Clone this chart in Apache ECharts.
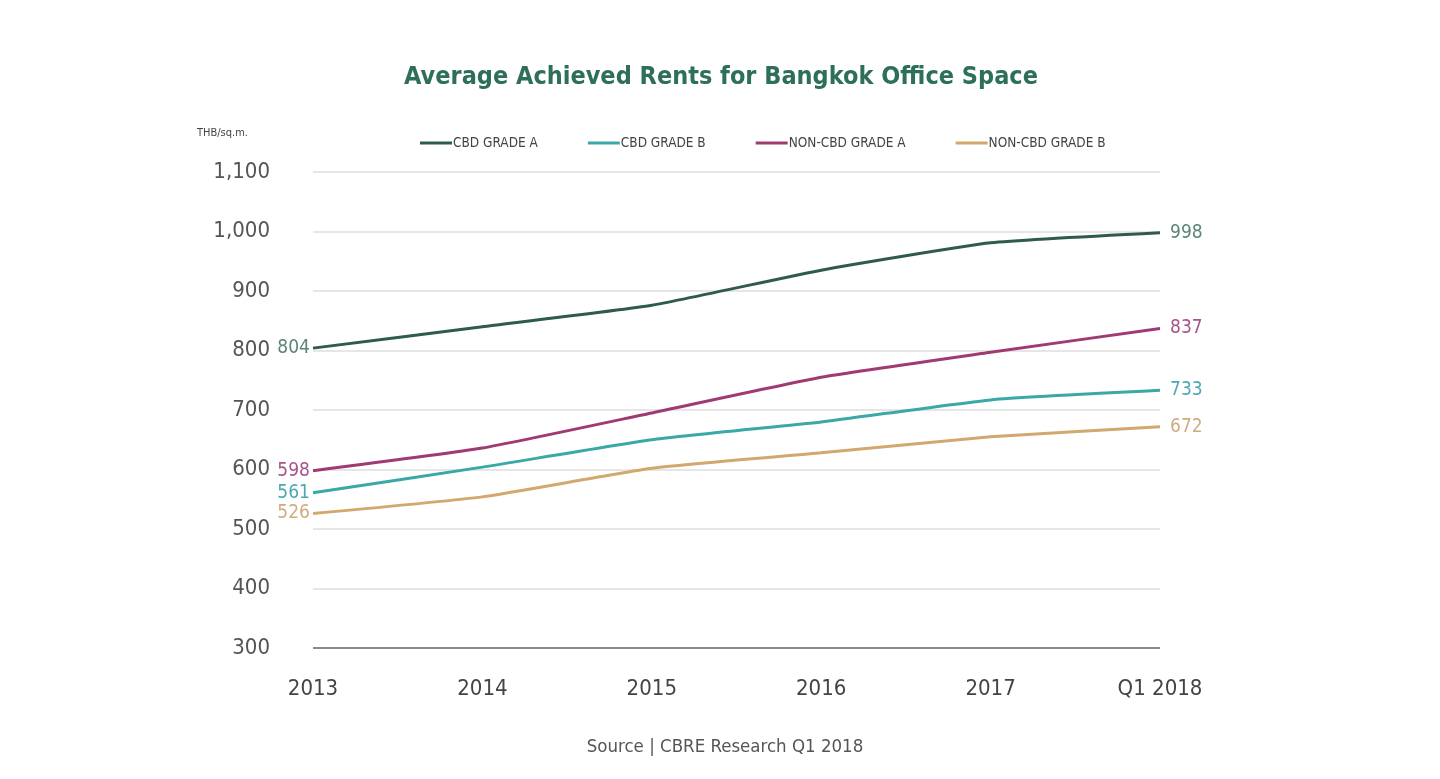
<!DOCTYPE html>
<html>
<head>
<meta charset="utf-8">
<script src="https://cdn.jsdelivr.net/npm/echarts@6/dist/echarts.min.js"></script>
<style>
html,body{margin:0;padding:0;background:#fff;}
#chart{width:1440px;height:779px;}
</style>
</head>
<body>
<div id="chart"></div>
<script>
const categories = ['2013', '2014', '2015', '2016', '2017', 'Q1 2018'];
const seriesNames = ['CBD GRADE A', 'CBD GRADE B', 'NON-CBD GRADE A', 'NON-CBD GRADE B'];
const cbdGradeA = [804, 840, 876, 935, 981, 998];
const cbdGradeB = [561, 604, 650, 680, 717, 733];
const nonCbdGradeA = [598, 636, 695, 755, 797, 837];
const nonCbdGradeB = [526, 554, 602, 628, 655, 672];
const yTicks = [300, 400, 500, 600, 700, 800, 900, 1000, 1100];

const FONT = "'DejaVu Sans Condensed', 'Liberation Sans Narrow', sans-serif";
const lineColors = ['#2f5b4c', '#3aa9a6', '#a03a72', '#d2a86f'];
const labelColors = ['#5b8577', '#4aa8b2', '#a8538a', '#cfac7f'];
const allData = [cbdGradeA, cbdGradeB, nonCbdGradeA, nonCbdGradeB];

function buildData(values, idx) {
  return values.map(function (v, i) {
    const item = { value: v };
    if (i === 0 || i === values.length - 1) {
      item.label = {
        show: true,
        position: i === 0 ? 'left' : 'right',
        distance: i === 0 ? 3 : 10,
        color: labelColors[idx],
        fontFamily: FONT,
        fontSize: 19,
        formatter: '{c}'
      };
    }
    return item;
  });
}

const chart = echarts.init(document.getElementById('chart'), null, { renderer: 'canvas' });
chart.setOption({
  backgroundColor: '#ffffff',
  animation: false,
  title: [{
    text: 'Average Achieved Rents for Bangkok Office Space',
    left: 716, top: 60, textAlign: 'center',
    textStyle: { fontFamily: FONT, fontSize: 25, fontWeight: 'bold', color: '#2e6f58' }
  }, {
    text: 'THB/sq.m.',
    left: 192, top: 123,
    textStyle: { fontFamily: FONT, fontSize: 11, fontWeight: 'normal', color: '#444' }
  }, {
    text: 'Source | CBRE Research Q1 2018',
    left: 720, top: 733, textAlign: 'center',
    textStyle: { fontFamily: FONT, fontSize: 18.5, fontWeight: 'normal', color: '#555' }
  }],
  legend: {
    top: 131, left: 415,
    itemWidth: 32, itemHeight: 3, itemGap: 50,
    icon: 'rect',
    data: seriesNames,
    textStyle: { fontFamily: FONT, fontSize: 13.5, color: '#444', padding: [0, 0, 0, -4] }
  },
  grid: { left: 313, right: 280, top: 172, bottom: 131, containLabel: false },
  xAxis: {
    type: 'category',
    data: categories,
    boundaryGap: false,
    axisLine: { show: false },
    axisTick: { show: false },
    splitLine: { show: false },
    axisLabel: { fontFamily: FONT, fontSize: 22, color: '#444', margin: 30 }
  },
  yAxis: {
    type: 'value',
    min: yTicks[0], max: yTicks[yTicks.length - 1], interval: 100,
    axisLine: { show: false },
    axisTick: { show: false },
    axisLabel: {
      fontFamily: FONT, fontSize: 22, color: '#555', margin: 43,
      formatter: function (v) { return v.toLocaleString('en-US'); }
    },
    splitLine: {
      show: true,
      lineStyle: {
        width: 2,
        color: yTicks.map(function (t) { return t === 300 ? '#8a8a8a' : '#e6e6e6'; })
      }
    }
  },
  series: allData.map(function (vals, idx) {
    return {
      name: seriesNames[idx],
      type: 'line',
      data: buildData(vals, idx),
      smooth: 0.15,
      symbol: 'circle',
      symbolSize: 0.1,
      showSymbol: true,
      lineStyle: { width: 3, color: lineColors[idx] },
      itemStyle: { color: lineColors[idx] },
      z: 3
    };
  })
});
</script>
</body>
</html>
